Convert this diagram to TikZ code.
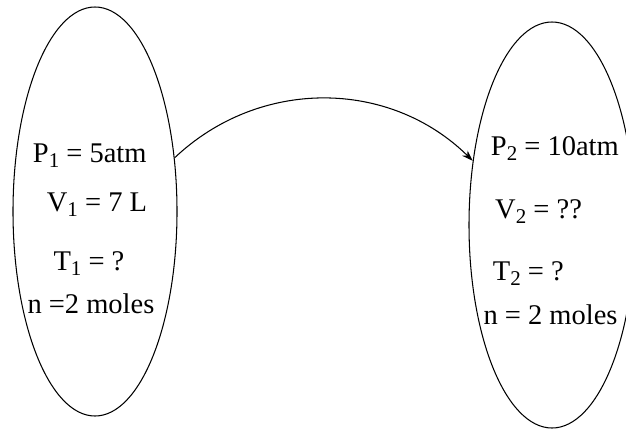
\documentclass[tikz,border=0pt]{standalone}
\usepackage{fontspec}
\setmainfont{Liberation Serif}
\usetikzlibrary{shapes.geometric,arrows.meta}
\newcommand\subs[1]{\raisebox{-5pt}{\fontsize{21}{21}\selectfont #1}}
\begin{document}
\begin{tikzpicture}[x=1pt,y=-1pt,
  bubble/.style={draw, ellipse, line width=1.05pt, inner sep=0pt},
  lbl/.style={anchor=base west, inner sep=0pt, font=\fontsize{28.5}{30}\selectfont},
  flow/.style={-{Stealth[length=11pt,width=7.5pt]}, line width=1.05pt}]
\useasboundingbox (0,0) rectangle (626,429);
\node[bubble, minimum width=164pt, minimum height=409pt] (L) at (95,211.5) {};
\node[bubble, minimum width=166pt, minimum height=406pt] (R) at (552,225) {};
\node[lbl] (p1) at (32.7,162) {P\subs{1} = 5atm};
\node[lbl] (v1) at (46.7,211.7) {V\subs{1} = 7 L};
\node[lbl] (t1) at (53.3,270.7) {T\subs{1} = ?};
\node[lbl] (n1) at (27.3,313.3) {n =2 moles};
\node[lbl] (p2) at (490.7,155) {P\subs{2} = 10atm};
\node[lbl] (v2) at (495,218.3) {V\subs{2} = ??};
\node[lbl] (t2) at (492.7,280) {T\subs{2} = ?};
\node[lbl] (n2) at (483.3,324) {n = 2 moles};
\draw[flow] (L.34) to[bend left=44] (R.141);
\end{tikzpicture}
\end{document}
